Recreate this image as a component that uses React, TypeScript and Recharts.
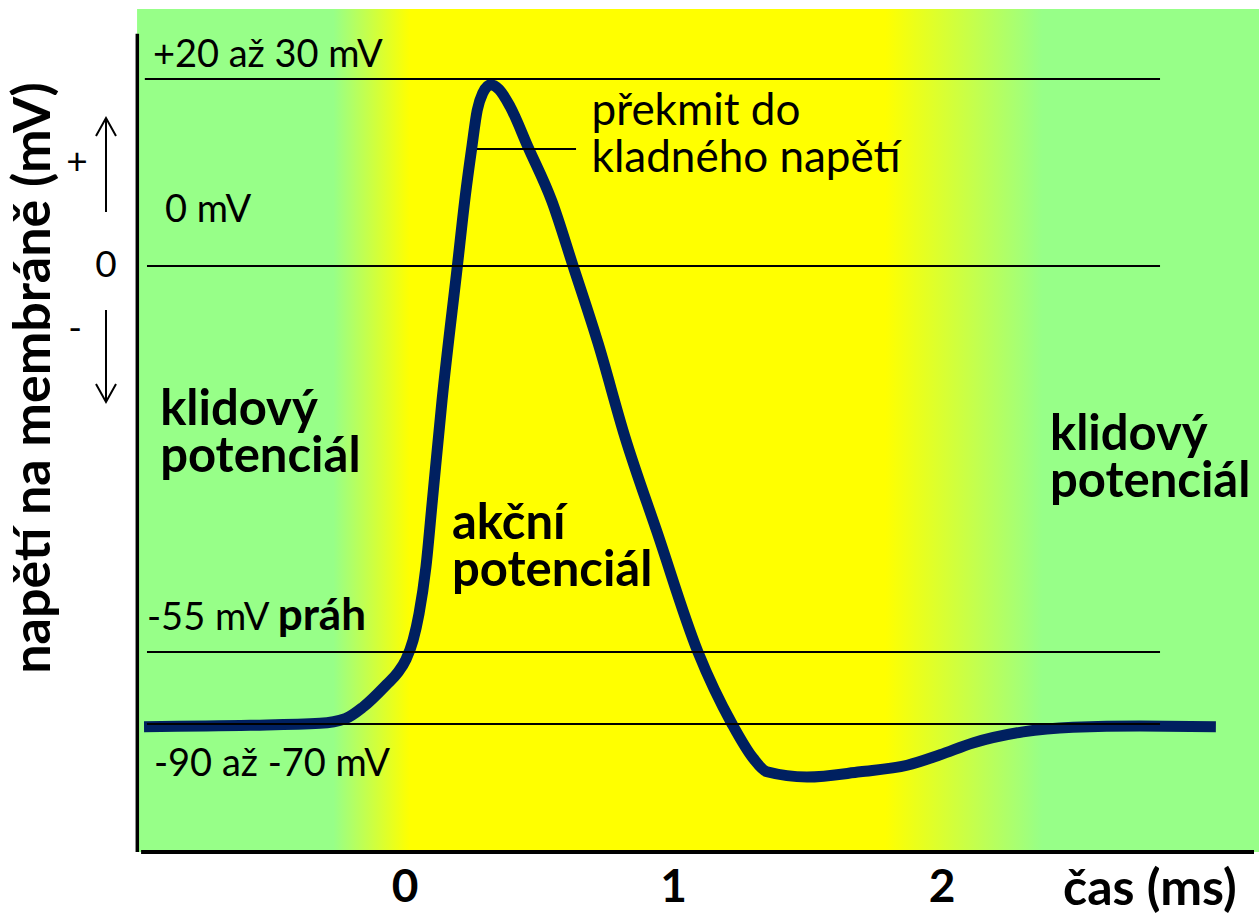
import React from "react"
import { LineChart, Line, XAxis, YAxis, ReferenceLine, ReferenceArea, ReferenceDot } from "recharts"

const FONT = "Lato, 'Open Sans', sans-serif"
const GREEN = "#97FF88"
const YELLOW = "#FFFF00"
const NAVY = "#002060"

// trace: time in ms, membrane voltage in mV
const timeMs = [
  -0.972, -0.577, -0.317, -0.223, -0.156, -0.067, -0.026, 0.004, 0.03, 0.052, 0.078, 0.102, 0.138, 0.195, 0.226,
  0.248, 0.269, 0.289, 0.319, 0.35, 0.391, 0.458, 0.547, 0.626, 0.719, 0.819, 0.939, 1.091, 1.218, 1.296, 1.348,
  1.497, 1.695, 1.87, 1.993, 2.115, 2.302, 2.488, 2.737, 3.02,
]
const voltageMv = [
  -70.4, -70.2, -69.9, -69.2, -67.4, -63.9, -62.1, -60.1, -57.2, -53.2, -46.0, -35.8, -20.5, 0, 11.2, 17.9, 23.8,
  26.4, 27.7, 27.0, 24.4, 18.2, 9.9, 0, -11.8, -26.1, -40.7, -59.0, -70.0, -75.2, -77.3, -78.1, -77.3, -76.3,
  -74.7, -72.9, -71.2, -70.5, -70.3, -70.4,
]

const xTicks = [0, 1, 2]
// horizontal guide levels: overshoot peak, zero, threshold, resting
const levels = [28.6, 0, -59, -70]
const levelFrom = -0.961
const levelTo = 2.812
const overshootLevel = 17.9
const overshootFrom = 0.268
const overshootTo = 0.637

const X_MIN = -1.0019
const X_MAX = 3.1806
const Y_MIN = -89.56
const Y_MAX = 39.28

type Part = { text: string; bold?: boolean; size?: number }
type Note = { t: number; v: number; size: number; gap: number; lines: Part[][] }

const notes: Note[] = [
  { t: -0.939, v: 30.47, size: 38, gap: 0, lines: [[{ text: "+20 až 30 mV" }]] },
  { t: -0.894, v: 6.72, size: 38, gap: 0, lines: [[{ text: "0 mV" }]] },
  { t: -0.961, v: -55.6, size: 38, gap: 0, lines: [[{ text: "-55 mV " }, { text: "práh", bold: true, size: 44 }]] },
  { t: -0.935, v: -77.9, size: 38, gap: 0, lines: [[{ text: "-90 až -70 mV" }]] },
  { t: -0.912, v: -24.3, size: 49, gap: 47, lines: [[{ text: "klidový", bold: true }], [{ text: "potenciál", bold: true }]] },
  { t: 0.175, v: -41.7, size: 49, gap: 47, lines: [[{ text: "akční", bold: true }], [{ text: "potenciál", bold: true }]] },
  { t: 0.695, v: 21.55, size: 44, gap: 46.7, lines: [[{ text: "překmit do" }], [{ text: "kladného napětí" }]] },
  { t: 2.402, v: -28.1, size: 49, gap: 47, lines: [[{ text: "klidový", bold: true }], [{ text: "potenciál", bold: true }]] },
  { t: 2.451, v: -97.66, size: 50, gap: 0, lines: [[{ text: "čas (ms)", bold: true }]] },
]

const trace = timeMs.map((t, i) => ({ t, v: voltageMv[i] }))

function NoteText(props: any) {
  const { viewBox, note } = props
  if (!viewBox) return null
  const x = viewBox.x + (viewBox.width || 0) / 2
  const y = viewBox.y + (viewBox.height || 0) / 2
  return (
    <text x={x} y={y} fontFamily={FONT} fontSize={note.size} fill="#000" style={{ whiteSpace: "pre" }}>
      {note.lines.map((line: Part[], i: number) => (
        <tspan key={i} x={x} dy={i === 0 ? 0 : note.gap}>
          {line.map((p, j) => (
            <tspan key={j} fontWeight={p.bold ? 700 : 400} fontSize={p.size || note.size}>
              {p.text}
            </tspan>
          ))}
        </tspan>
      ))}
    </text>
  )
}

function ZeroTick(props: any) {
  const { y, payload } = props
  if (!payload || payload.value !== 0) return null
  return (
    <g fontFamily={FONT} fill="#000">
      <text x={77} y={y - 107} fontSize={37} textAnchor="middle" dominantBaseline="central">+</text>
      <text x={106} y={y + 11} fontSize={37} textAnchor="middle">0</text>
      <text x={75} y={y + 60} fontSize={37} textAnchor="middle" dominantBaseline="central">-</text>
      <g stroke="#000" strokeWidth={2} fill="none">
        <line x1={106} y1={y - 148} x2={106} y2={y - 54} />
        <polyline points={`96,${y - 130} 106,${y - 148} 116,${y - 130}`} />
        <line x1={106} y1={y + 44} x2={106} y2={y + 136} />
        <polyline points={`96,${y + 118} 106,${y + 136} 116,${y + 118}`} />
      </g>
    </g>
  )
}

function YTitle(props: any) {
  const { viewBox } = props
  if (!viewBox) return null
  const cx = 50
  const cy = 378
  return (
    <text
      x={cx}
      y={cy}
      transform={`rotate(-90 ${cx} ${cy})`}
      textAnchor="middle"
      fontFamily={FONT}
      fontWeight={700}
      fontSize={52}
      fill="#000"
    >
      napětí na membráně (mV)
    </text>
  )
}

export default function App() {
  return (
    <div style={{ position: "absolute", left: 0, top: 0, background: "#fff" }}>
      <LineChart width={1259} height={915} data={trace} margin={{ top: 9, right: 0, left: 0, bottom: 0 }}>
        <defs>
          <linearGradient id="bgGrad" x1="0" y1="0" x2="1" y2="0">
            <stop offset="0" stopColor={GREEN} />
            <stop offset="0.175" stopColor={GREEN} />
            <stop offset="0.243" stopColor={YELLOW} />
            <stop offset="0.667" stopColor={YELLOW} />
            <stop offset="0.807" stopColor={GREEN} />
            <stop offset="1" stopColor={GREEN} />
          </linearGradient>
        </defs>
        <XAxis
          type="number"
          dataKey="t"
          domain={[X_MIN, X_MAX]}
          allowDataOverflow
          ticks={xTicks}
          interval={0}
          axisLine={false}
          tickLine={false}
          height={63}
          tickMargin={11}
          tick={{ fontFamily: FONT, fontSize: 46, fontWeight: 700, fill: "#000" }}
        />
        <YAxis
          type="number"
          domain={[Y_MIN, Y_MAX]}
          allowDataOverflow
          width={136}
          ticks={[0]}
          axisLine={false}
          tickLine={false}
          tick={<ZeroTick />}
          label={<YTitle />}
        />
        <ReferenceArea
          x1={-0.998}
          x2={X_MAX}
          y1={Y_MIN}
          y2={Y_MAX}
          fill="url(#bgGrad)"
          fillOpacity={1}
          stroke="none"
          ifOverflow="visible"
        />
        <Line
          type="monotone"
          dataKey="v"
          stroke={NAVY}
          strokeWidth={11}
          dot={false}
          activeDot={false}
          isAnimationActive={false}
        />
        {levels.map((lv, i) => (
          <ReferenceLine
            key={lv}
            segment={[
              { x: i === 0 ? -0.969 : levelFrom, y: lv },
              { x: levelTo, y: lv },
            ]}
            stroke="#000"
            strokeWidth={2}
            ifOverflow="visible"
          />
        ))}
        <ReferenceLine
          segment={[
            { x: overshootFrom, y: overshootLevel },
            { x: overshootTo, y: overshootLevel },
          ]}
          stroke="#000"
          strokeWidth={2}
          ifOverflow="visible"
        />
        <ReferenceLine
          segment={[
            { x: -0.997, y: 35.5 },
            { x: -0.997, y: Y_MIN },
          ]}
          stroke="#000"
          strokeWidth={3.5}
          ifOverflow="visible"
        />
        <ReferenceLine
          segment={[
            { x: -0.983, y: Y_MIN },
            { x: 3.162, y: Y_MIN },
          ]}
          stroke="#000"
          strokeWidth={4}
          ifOverflow="visible"
        />
        {notes.map((n, i) => (
          <ReferenceDot
            key={i}
            x={n.t}
            y={n.v}
            r={1}
            fill="none"
            stroke="none"
            ifOverflow="visible"
            label={<NoteText note={n} />}
          />
        ))}
      </LineChart>
    </div>
  )
}
